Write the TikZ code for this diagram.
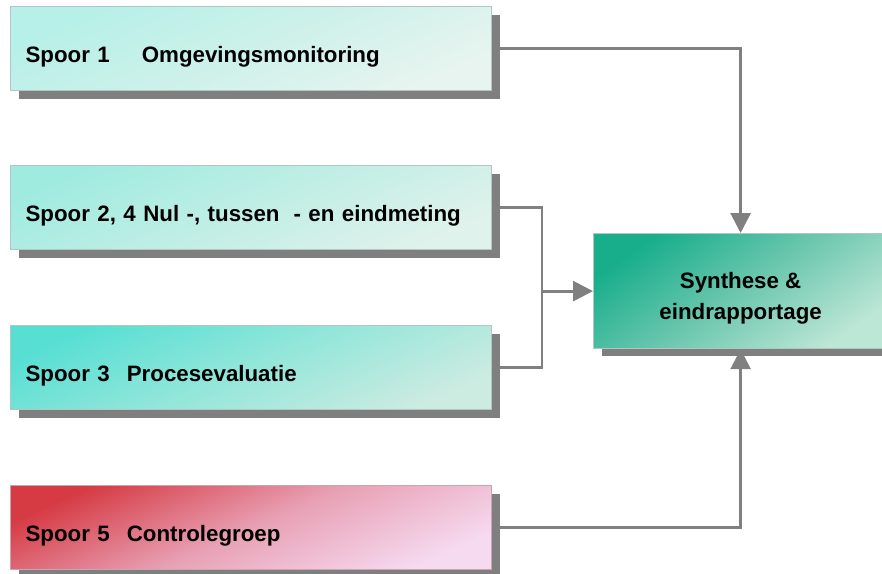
\documentclass[tikz,border=0pt]{standalone}
\usepackage{fontspec}
\setmainfont{Liberation Sans}
\usetikzlibrary{arrows.meta,shadows}
\definecolor{linegray}{HTML}{808080}
\definecolor{shadowgray}{HTML}{7F7F7F}
\definecolor{bordercyan}{HTML}{B2C6C2}
\definecolor{borderpink}{HTML}{C8A6B0}
\definecolor{aA}{HTML}{B6F0E8}\definecolor{aM}{HTML}{CDF1EA}\definecolor{aB}{HTML}{E8F4EF}
\definecolor{bA}{HTML}{A0EBE0}\definecolor{bM}{HTML}{C0EEE5}\definecolor{bB}{HTML}{DFF2EB}
\definecolor{cA}{HTML}{58DFD4}\definecolor{cM}{HTML}{94E6DA}\definecolor{cB}{HTML}{CCEBE1}
\definecolor{dA}{HTML}{D63B44}\definecolor{dM}{HTML}{E8A0B4}\definecolor{dB}{HTML}{F6DAF0}
\definecolor{eA}{HTML}{18AE8C}\definecolor{eM}{HTML}{6CC7AE}\definecolor{eB}{HTML}{BCE6D6}
\tikzset{
  spoorbox/.style={rectangle, anchor=north west, line width=1.2pt,
    minimum width=481pt, minimum height=84pt, inner xsep=15pt, inner ysep=0pt,
    text width=451pt, text height=56pt, text depth=28pt,
    font=\fontsize{22.3}{26}\selectfont\bfseries,
    drop shadow={shadow xshift=8pt, shadow yshift=-8pt, fill=shadowgray, opacity=1}},
  synbox/.style={rectangle, anchor=north west, line width=1.2pt, draw=bordercyan,
    minimum width=294pt, minimum height=115pt, inner sep=0pt,
    text height=55pt, text depth=60pt,
    font=\fontsize{22.3}{31}\selectfont\bfseries,
    drop shadow={shadow xshift=8pt, shadow yshift=-7pt, fill=shadowgray, opacity=1}},
  conn/.style={draw=linegray, line width=2.8pt},
  tip/.style={-{Triangle[length=20pt,width=20pt]}}
}
\begin{document}
\begin{tikzpicture}[x=1pt,y=-1pt]
\useasboundingbox (0,0) rectangle (882,573);
\node[spoorbox, draw=bordercyan, top color=aA, bottom color=aB, middle color=aM, shading angle=24] (s1) at (10,6)
  {Spoor 1\hspace{32pt}Omgevingsmonitoring};
\node[spoorbox, draw=bordercyan, top color=bA, bottom color=bB, middle color=bM, shading angle=24] (s2) at (10,165)
  {Spoor 2, 4 Nul -, tussen\hspace{14pt}- en eindmeting};
\node[spoorbox, draw=bordercyan, top color=cA, bottom color=cB, middle color=cM, shading angle=24] (s3) at (10,325)
  {Spoor 3\hspace{17pt}Procesevaluatie};
\node[spoorbox, draw=borderpink, top color=dA, bottom color=dB, middle color=dM, shading angle=24] (s5) at (10,485)
  {Spoor 5\hspace{17pt}Controlegroep};
\node[synbox, top color=eA, bottom color=eB, middle color=eM, shading angle=35] (syn) at (593,233)
  {\begin{tabular}[t]{@{}c@{}}Synthese \&\\eindrapportage\end{tabular}};
\coordinate (j) at (542,0 |- syn.west);
\draw[conn, tip] (s1.east) -| (syn.north);
\draw[conn] (s2.east) -| (j);
\draw[conn] (s3.east) -| (j);
\draw[conn, tip] (j) -- (syn.west);
\draw[conn, tip] (s5.east) -| (syn.south);
\end{tikzpicture}
\end{document}
